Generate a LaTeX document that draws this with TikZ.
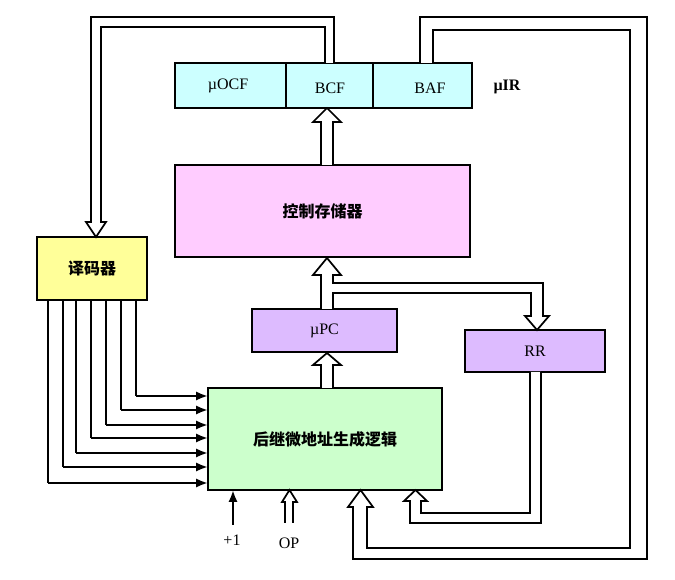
\documentclass[tikz,border=0pt]{standalone}
\usepackage{fontspec}
\setmainfont{Liberation Serif}
\newfontfamily\cjk{Noto Sans CJK SC}
\usetikzlibrary{arrows.meta}
\definecolor{cy}{HTML}{CCFFFF}
\definecolor{pk}{HTML}{FFCCFF}
\definecolor{yl}{HTML}{FFFF99}
\definecolor{pu}{HTML}{DDBBFF}
\definecolor{gr}{HTML}{CCFFCC}
\begin{document}
\begin{tikzpicture}[x=0.75pt,y=-0.75pt,
  box/.style={draw,line width=1.4pt},
  hol/.style={draw,line width=1.3pt,fill=white,line join=miter},
  dbl/.style={draw,line width=1.3pt},
  sig/.style={line width=2pt,-{Latex[length=9pt,width=7pt]}},
  lab/.style={font=\fontsize{12}{14}\selectfont},
  clab/.style={font=\cjk\bfseries\fontsize{12}{14}\selectfont}]
\useasboundingbox (0,0) rectangle (675,580);
% boxes
\filldraw[box,fill=cy] (175,63) rectangle (472,108);
\draw[box] (286,63) -- (286,108) (373,63) -- (373,108);
\node[lab] (ocf) at (228,86) {µOCF};
\node[lab] (bcf) at (330,88) {BCF};
\node[lab] (baf) at (430,88) {BAF};
\node[lab,font=\bfseries\fontsize{12}{14}\selectfont] (uir) at (507,87) {µIR};
\node[box,fill=pk,minimum width=295*0.75pt,minimum height=92*0.75pt,clab] (cs) at (322.5,211) {控制存储器};
\node[box,fill=yl,minimum width=110*0.75pt,minimum height=63*0.75pt,clab] (dec) at (92,268.5) {译码器};
\node[box,fill=pu,minimum width=145*0.75pt,minimum height=43*0.75pt,lab] (upc) at (324.5,330.5) {µPC};
\node[box,fill=pu,minimum width=140*0.75pt,minimum height=42*0.75pt,lab] (rr) at (535,351) {RR};
\node[box,fill=gr,minimum width=234*0.75pt,minimum height=102*0.75pt,clab] (nx) at (325,439) {后继微地址生成逻辑};
% CS -> BCF
\draw[hol] (321,165) -- (321,122) -- (313,122) -- (327,108) -- (341,122) -- (333,122) -- (333,165);
% uPC -> CS and RR
\draw[hol] (321,309) -- (321,275) -- (313,275) -- (327,258) -- (341,275) -- (333,275) -- (333,283)
  -- (543,283) -- (543,316) -- (549,316) -- (537,330) -- (525,316) -- (531,316) -- (531,293) -- (333,293) -- (333,309);
% next -> uPC
\draw[hol] (321,388) -- (321,365) -- (313,365) -- (327,353) -- (341,365) -- (333,365) -- (333,388);
% RR -> next
\draw[hol] (530,372) -- (530,513) -- (421,513) -- (421,501) -- (427,501) -- (415.5,490) -- (404,501) -- (410,501) -- (410,523) -- (541,523) -- (541,372);
% BCF -> decoder loop
\draw[hol] (325,63) -- (325,27) -- (101,27) -- (101,222) -- (106,222) -- (96,237) -- (86,222) -- (91,222) -- (91,17) -- (334,17) -- (334,63);
% BAF -> next loop
\draw[hol] (420,63) -- (420,17) -- (647,17) -- (647,559) -- (353,559) -- (353,507) -- (348,507) -- (360.5,490) -- (373,507) -- (367,507) -- (367,548) -- (630,548) -- (630,30) -- (433,30) -- (433,63);
% OP
\draw[hol] (285,523) -- (285,502) -- (282,502) -- (289.5,490) -- (297,502) -- (293,502) -- (293,523);
\node[lab] (op) at (289,543) {OP};
% +1
\coordinate (p1) at (233,525);
\draw[sig] (p1) -- (233,490);
\node[lab] (one) at (232,540) {+1};
% decoder outputs
\foreach \x/\y in {136/396,121/410,106/425,91/438,76/453,63/467,48/483}{
  \draw[line width=1.6pt] (\x,300) -- (\x,\y);
  \draw[sig] (\x,\y) -- (208,\y);
}
\end{tikzpicture}
\end{document}
